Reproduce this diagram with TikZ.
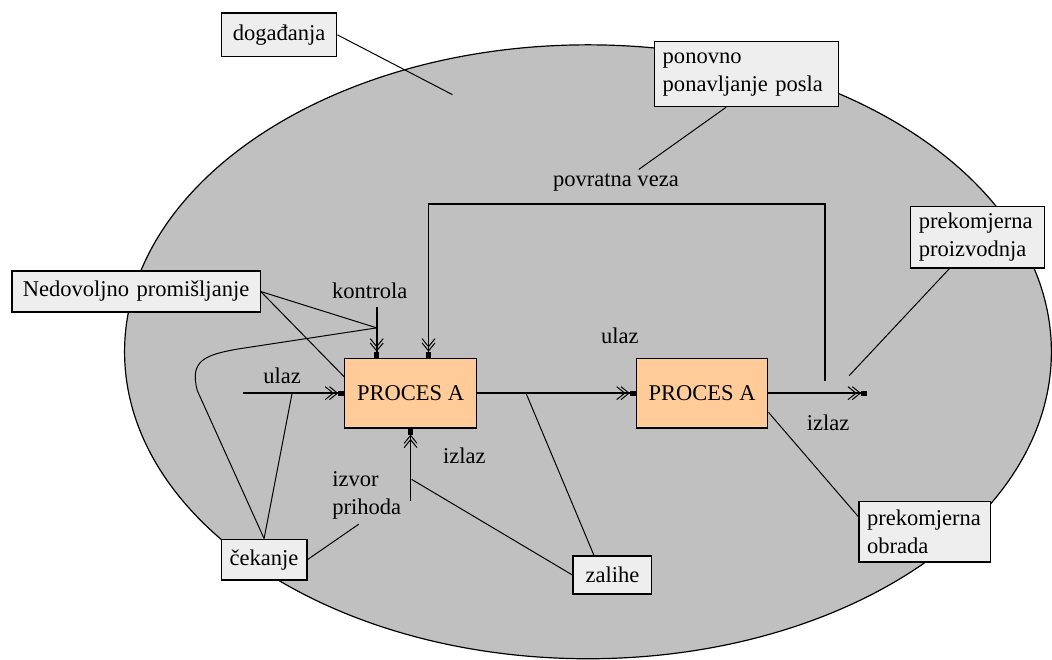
\documentclass[tikz,border=0pt]{standalone}
\usepackage{fontspec}
\setmainfont{Liberation Serif}
\usetikzlibrary{arrows.meta}
\usetikzlibrary{calc}
\definecolor{proc-orange}{HTML}{FFCC99}
\definecolor{cloud-gray}{HTML}{C0C0C0}
\definecolor{note-gray}{HTML}{EEEEEE}
\tikzset{
  waste-box/.style 2 args={
    draw,
    fill=note-gray,
    text width=#1,
    minimum height=#2,
    inner xsep=4pt,
    inner ysep=0pt,
    align=left,
    line width=0.6pt,
    font=\fontsize{11.3}{14}\selectfont},
  process-box/.style={draw, fill=proc-orange, minimum width=66pt, minimum height=35pt, inner sep=0pt, line width=0.6pt, font=\fontsize{11.3}{14}\selectfont},
  flow-label/.style={inner sep=0pt, align=left, font=\fontsize{11.3}{14}\selectfont},
  flow-path/.style={line width=0.8pt, -{Straight Barb[length=4pt,width=6.5pt,line width=0.5pt,sep=-2.5pt]Straight Barb[length=4pt,width=6.5pt,line width=0.5pt,sep=0pt]Square[length=3pt,width=2.6pt]}},
  note-path/.style={line width=0.5pt},
}

\begin{document}
\begin{tikzpicture}[x=0.5pt, y=-0.5pt]
\fill[white] (0,0) rectangle (1052,662);
% the whole system
\draw[fill=cloud-gray, line width=0.6pt] (590,353) ellipse [x radius=465, y radius=308];

\node[waste-box={50pt}{22pt}, align=center] (dog) at (280,35) {događanja};
\node[waste-box={84pt}{32.5pt}] (posla) at (749,74.5) {ponovno\\ponavljanje posla};
\node[waste-box={59pt}{31pt}] (proizv) at (981,238) {prekomjerna\\proizvodnja};
\node[waste-box={116.5pt}{20.5pt}, align=center] (nedov) at (136.5,292.5) {Nedovoljno promišljanje};
\node[waste-box={35pt}{20.5pt}, align=center] (cek) at (265,561.5) {čekanje};
\node[waste-box={31.5pt}{19pt}, align=center] (zal) at (614.5,577) {zalihe};
\node[waste-box={58pt}{30.5pt}] (obrada) at (928,533.5) {prekomjerna\\obrada};

\node[process-box] (procA) at (412,394.5) {PROCES A};
\node[process-box] (procB) at (704.5,394.5) {PROCES A};

\node[flow-label] (kontrola-lbl) at (371,292) {kontrola};
\node[flow-label] (ulaz-lbl) at (283,377) {ulaz};
\node[flow-label] (izvor-lbl) at (368,497) {izvor\\prihoda};
\node[flow-label] (izlaz-lbl) at (466,457) {izlaz};
\node[flow-label] (ulazB-lbl) at (622,337) {ulaz};
\node[flow-label] (izlazB-lbl) at (831,424) {izlaz};
\node[flow-label] (veza-lbl) at (618,183) {povratna veza};

\coordinate (dog-end) at (454,95);
\coordinate (veza-end) at (641,170);
\coordinate (fb-start) at (828,382);
\coordinate (fb-corner) at (430,205);
\coordinate (kontrola-start) at (378,308);
\coordinate (kontrola-join) at (378,329);
\coordinate (ulaz-start) at (244,394.5);
\coordinate (ulaz-join) at (293,395);
\coordinate (izvor-start) at (412,503);
\coordinate (izvor-join) at (413,481);
\coordinate (cek-end) at (360,526);
\coordinate (main-join) at (528,395);
\coordinate (izlaz-end) at (870,394.5);
\coordinate (proizv-end) at (852,377);

% flows
\draw[flow-path] (fb-start) |- (fb-corner) -- (fb-corner |- procA.north);
\draw[flow-path] (kontrola-start) -- (kontrola-start |- procA.north);
\draw[flow-path] (ulaz-start) -- (procA.west);
\draw[flow-path] (izvor-start) -- (procA.south);
\draw[flow-path] (procA.east) -- (procB.west);
\draw[flow-path] (procB.east) -- (izlaz-end);

% pointers from the boxes
\draw[note-path] (dog.east) -- (dog-end);
\draw[note-path] ($(posla.south west)!0.39!(posla.south east)$) -- (veza-end);
\draw[note-path] ($(proizv.south west)!0.29!(proizv.south east)$) -- (proizv-end);
\draw[note-path] (nedov.east) -- (kontrola-join);
\draw[note-path] (nedov.east) -- ($(procA.north west)!0.27!(procA.south west)$);
\draw[note-path] (cek.north) -- (198,392) .. controls (190,362) and (205,356) .. (240,350) -- (kontrola-join);
\draw[note-path] (cek.north) -- (ulaz-join);
\draw[note-path] (cek.east) -- (cek-end);
\draw[note-path] (zal.west) -- (izvor-join);
\draw[note-path] ($(zal.north west)!0.27!(zal.north east)$) -- (main-join);
\draw[note-path] ($(obrada.north west)!0.26!(obrada.south west)$) -- ($(procB.north east)!0.77!(procB.south east)$);
\end{tikzpicture}
\end{document}
